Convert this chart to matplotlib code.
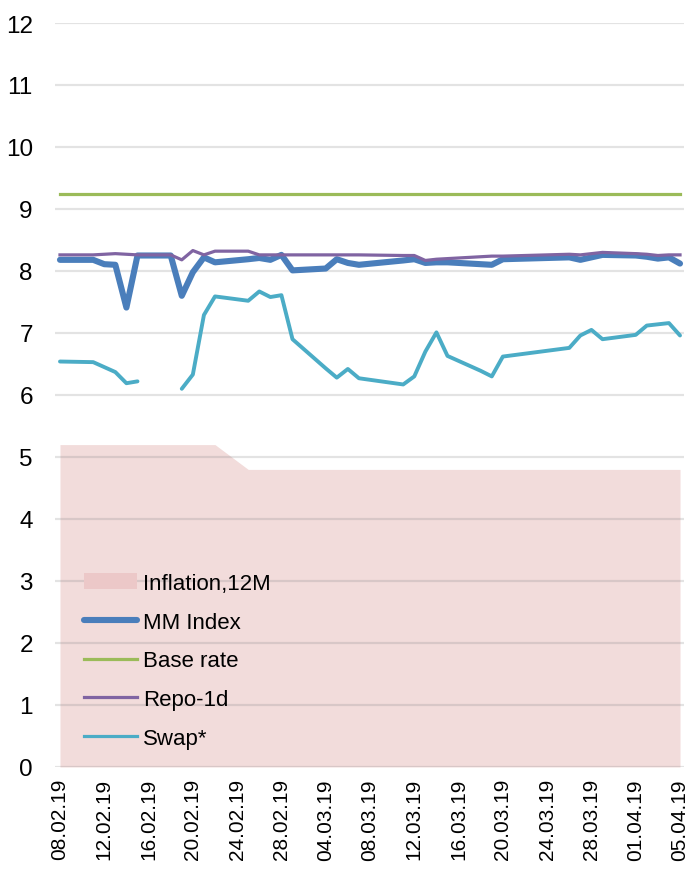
import matplotlib
matplotlib.use("Agg")
import matplotlib.pyplot as plt
from matplotlib.patches import Patch
from matplotlib.lines import Line2D
import numpy as np
import pandas as pd

dates = ["08.02.19", "11.02.19", "12.02.19", "13.02.19", "14.02.19", "15.02.19",
         "18.02.19", "19.02.19", "20.02.19", "21.02.19", "22.02.19", "25.02.19",
         "26.02.19", "27.02.19", "28.02.19", "01.03.19", "04.03.19", "05.03.19",
         "06.03.19", "07.03.19", "11.03.19", "12.03.19", "13.03.19", "14.03.19",
         "15.03.19", "18.03.19", "19.03.19", "20.03.19", "26.03.19", "27.03.19",
         "28.03.19", "29.03.19", "01.04.19", "02.04.19", "03.04.19", "04.04.19",
         "05.04.19"]

inflation = [5.2] * 11 + [4.8] * 26

mm_index = [8.18, 8.18, 8.11, 8.10, 7.41, 8.25, 8.25, 7.60, 7.98, 8.22, 8.14, 8.19,
            8.21, 8.18, 8.26, 8.01, 8.04, 8.19, 8.13, 8.10, 8.17, 8.19, 8.13, 8.14,
            8.14, 8.11, 8.10, 8.19, 8.22, 8.18, 8.22, 8.26, 8.25, 8.23, 8.20, 8.22,
            8.12]

base_rate = [9.25] * 37

repo_1d = [8.26, 8.26, 8.27, 8.28, 8.27, 8.26, 8.26, 8.18, 8.33, 8.26, 8.32, 8.32,
           8.26, 8.26, 8.26, 8.26, 8.26, 8.26, 8.26, 8.26, 8.25, 8.25, 8.17, 8.19,
           8.20, 8.23, 8.24, 8.24, 8.27, 8.26, 8.28, 8.30, 8.28, 8.27, 8.25, 8.26,
           8.26]

swap = [6.54, 6.53, 6.45, 6.37, 6.19, 6.22, np.nan, 6.10, 6.33, 7.29, 7.59, 7.52,
        7.67, 7.58, 7.61, 6.90, 6.43, 6.28, 6.42, 6.27, 6.17, 6.30, 6.70, 7.01,
        6.63, 6.39, 6.30, 6.62, 6.76, 6.96, 7.05, 6.90, 6.97, 7.12, 7.14, 7.16,
        6.96]

tick_labels = ["08.02.19", "12.02.19", "16.02.19", "20.02.19", "24.02.19", "28.02.19",
               "04.03.19", "08.03.19", "12.03.19", "16.03.19", "20.03.19", "24.03.19",
               "28.03.19", "01.04.19", "05.04.19"]

x = pd.to_datetime(dates, format="%d.%m.%y")
ticks = pd.to_datetime(tick_labels, format="%d.%m.%y")

plt.rcParams['font.family'] = ['Liberation Sans', 'DejaVu Sans']

fig = plt.figure(figsize=(6.88, 8.70), dpi=100)
ax = fig.add_axes([55 / 688, (870 - 768) / 870, 629 / 688, 744 / 870])

c_infl = '#f2dcdb'
c_mm = '#4a7ebb'
c_base = '#9bbb59'
c_repo = '#8064a2'
c_swap = '#4bacc6'

ax.fill_between(x, 0, inflation, color=c_infl, linewidth=0, zorder=1)
ax.plot(x, mm_index, color=c_mm, lw=4.4, solid_joinstyle='round',
        solid_capstyle='round', zorder=3)
ax.plot(x, base_rate, color=c_base, lw=2.3, zorder=4)
ax.plot(x, repo_1d, color=c_repo, lw=2.3, solid_joinstyle='round', zorder=5)
ax.plot(x, swap, color=c_swap, lw=2.8, solid_joinstyle='round',
        solid_capstyle='round', zorder=6)

ax.set_ylim(0, 12)
ax.set_yticks(range(0, 13))
x0 = ticks[0] - pd.Timedelta(hours=0.45 * 24)
x1 = ticks[-1] + pd.Timedelta(hours=0.36 * 24)
ax.set_xlim(x0, x1)
ax.set_xticks(ticks)
ax.set_xticklabels(tick_labels, rotation=90)

ax.set_axisbelow(False)
ax.yaxis.grid(True, color='#808080', alpha=0.22, lw=1.6, zorder=2)
ax.xaxis.grid(False)
for s in ax.spines.values():
    s.set_visible(False)
ax.tick_params(axis='both', length=0, colors='black')
ax.tick_params(axis='y', pad=16, labelsize=17.5)
ax.tick_params(axis='x', pad=8, labelsize=15)

handles = [Patch(facecolor='#ecc8c8', edgecolor='none'),
           Line2D([], [], color=c_mm, lw=4.4, solid_capstyle='round'),
           Line2D([], [], color=c_base, lw=2.3),
           Line2D([], [], color=c_repo, lw=2.3),
           Line2D([], [], color=c_swap, lw=2.3)]
labels = ["Inflation,12M", "MM Index", "Base rate", "Repo-1d", "Swap*"]
leg = ax.legend(handles, labels, loc='lower left',
                bbox_to_anchor=((84 - 55) / 629, (768 - 750) / 744),
                frameon=False, borderpad=0, borderaxespad=0,
                handlelength=2.4, handletextpad=0.25, labelspacing=0.8,
                fontsize=16)

fig.savefig("out.png", dpi=100)
